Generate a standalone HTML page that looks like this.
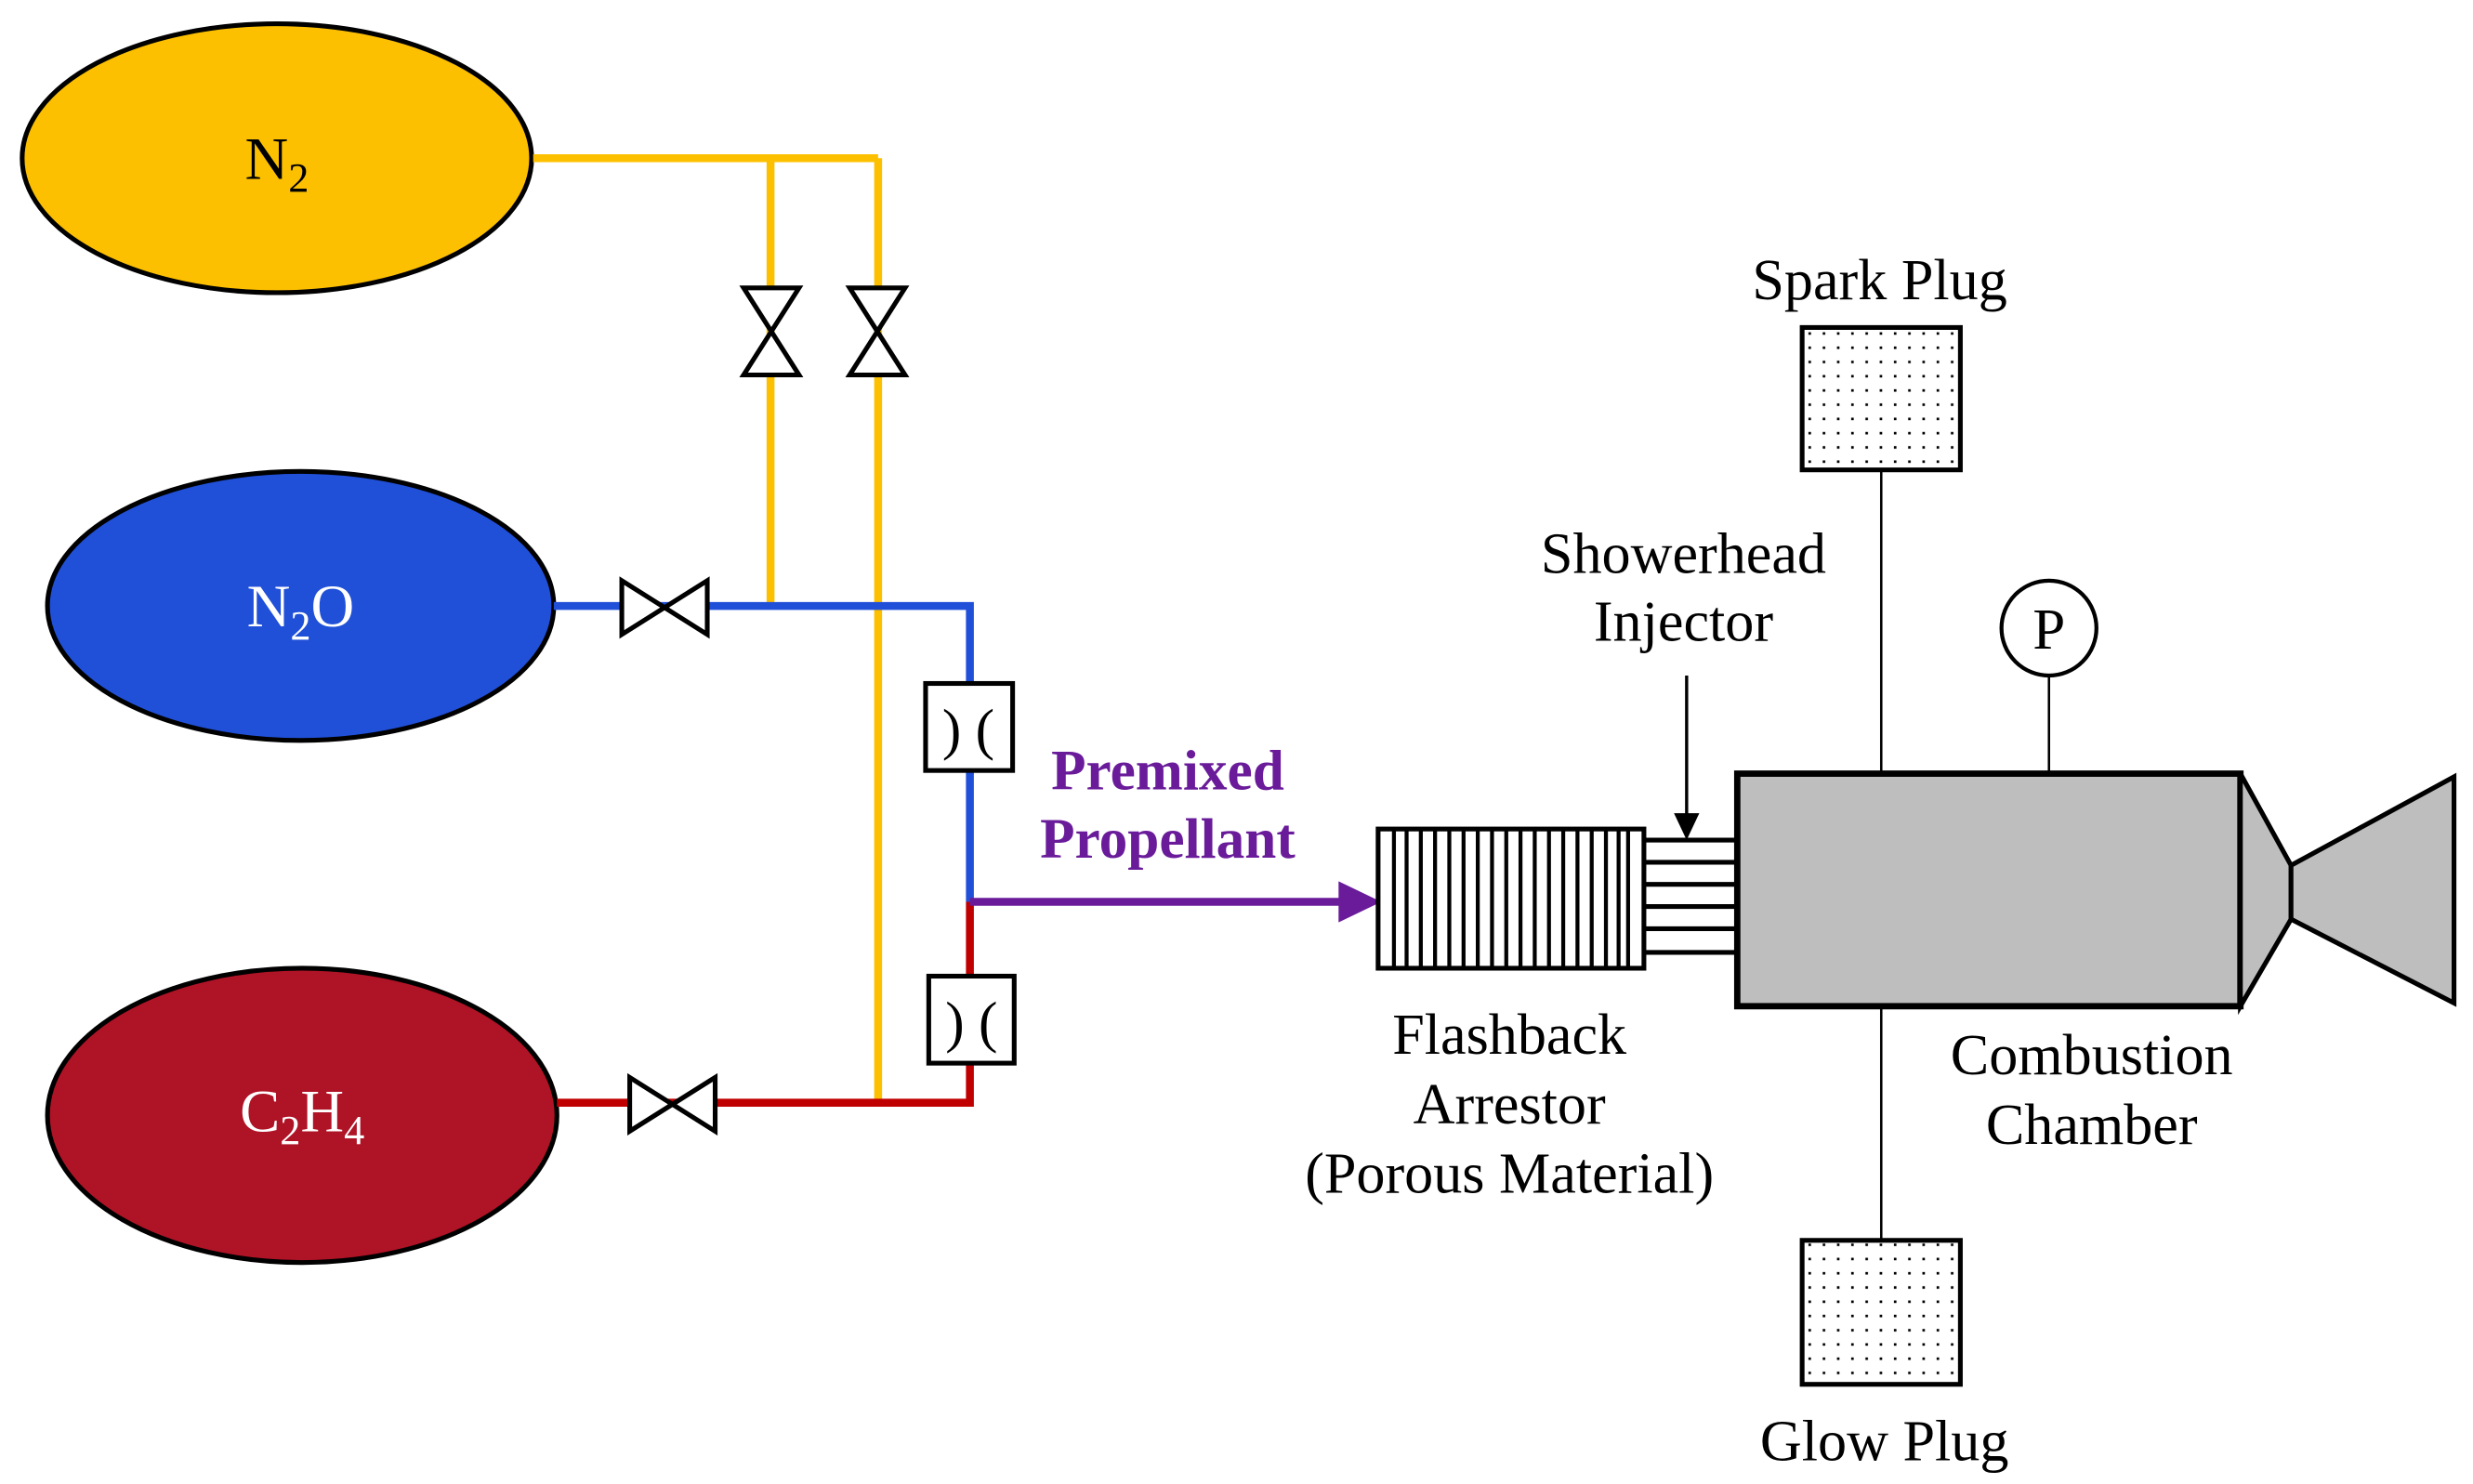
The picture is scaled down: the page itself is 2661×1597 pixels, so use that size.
<!DOCTYPE html>
<html><head><meta charset="utf-8"><style>html,body{margin:0;padding:0;background:#fff}svg{display:block}</style></head>
<body>
<svg width="2661" height="1597" viewBox="0 0 1563 938" preserveAspectRatio="none" xmlns="http://www.w3.org/2000/svg" font-family="'Liberation Serif', serif">
<defs>
<pattern id="dots" width="9" height="9" patternUnits="userSpaceOnUse"><rect x="4" y="4" width="1.6" height="1.6" fill="#000"/></pattern>
</defs>
<!-- tanks -->
<ellipse cx="175" cy="100" rx="161" ry="85" fill="#fdc000" stroke="#000" stroke-width="3"/>
<ellipse cx="190" cy="383" rx="160" ry="85" fill="#2050d8" stroke="#000" stroke-width="3"/>
<ellipse cx="191" cy="705" rx="161" ry="93" fill="#af1326" stroke="#000" stroke-width="3"/>
<text x="175" y="113" font-size="38" text-anchor="middle" fill="#000">N<tspan font-size="26" dy="8">2</tspan></text>
<text x="190" y="396" font-size="38" text-anchor="middle" fill="#fff">N<tspan font-size="26" dy="8">2</tspan><tspan dy="-8">O</tspan></text>
<text x="191" y="715" font-size="38" text-anchor="middle" fill="#fff">C<tspan font-size="26" dy="8">2</tspan><tspan dy="-8">H</tspan><tspan font-size="26" dy="8">4</tspan></text>
<!-- yellow pipes -->
<g stroke="#fdc000" stroke-width="5" fill="none">
<polyline points="337,100 555,100"/>
<line x1="487" y1="100" x2="487" y2="381"/>
<line x1="555" y1="100" x2="555" y2="695"/>
</g>
<!-- blue -->
<polyline points="350,383 613,383 613,570" stroke="#2050d8" stroke-width="5" fill="none"/>
<!-- red -->
<polyline points="352,697 613,697 613,570" stroke="#c00000" stroke-width="5" fill="none"/>
<!-- purple -->
<line x1="613" y1="570" x2="850" y2="570" stroke="#6a1b9a" stroke-width="5"/>
<polygon points="846,557 873,570 846,583" fill="#6a1b9a"/>
<text font-size="36" font-weight="bold" fill="#6a1b9a" text-anchor="middle"><tspan x="738" y="499">Premixed</tspan><tspan x="738" y="542">Propellant</tspan></text>
<!-- valves -->
<g fill="#fff" stroke="#000" stroke-width="3">
<polygon points="470,182 505,182 470,237 505,237"/>
<polygon points="537,182 572,182 537,237 572,237"/>
<polygon points="393,367 393,401 447,367 447,401"/>
<polygon points="398,681 398,715 452,681 452,715"/>
<rect x="585" y="432" width="55" height="55"/>
<rect x="587" y="617" width="54" height="55"/>
</g>
<text x="612" y="473" font-size="36" text-anchor="middle">) (</text>
<text x="614" y="658" font-size="36" text-anchor="middle">) (</text>
<g transform="translate(-4,-1)">
<!-- flashback arrestor -->
<rect x="875" y="525" width="168" height="88" fill="#fff" stroke="#000" stroke-width="3"/>
<g stroke="#000" stroke-width="2.5">
<line x1="885" y1="525" x2="885" y2="613"/><line x1="893" y1="525" x2="893" y2="613"/><line x1="902" y1="525" x2="902" y2="613"/><line x1="911" y1="525" x2="911" y2="613"/><line x1="920" y1="525" x2="920" y2="613"/><line x1="929" y1="525" x2="929" y2="613"/><line x1="938" y1="525" x2="938" y2="613"/><line x1="947" y1="525" x2="947" y2="613"/><line x1="956" y1="525" x2="956" y2="613"/><line x1="965" y1="525" x2="965" y2="613"/><line x1="974" y1="525" x2="974" y2="613"/><line x1="983" y1="525" x2="983" y2="613"/><line x1="992" y1="525" x2="992" y2="613"/><line x1="1001" y1="525" x2="1001" y2="613"/><line x1="1010" y1="525" x2="1010" y2="613"/><line x1="1019" y1="525" x2="1019" y2="613"/><line x1="1027" y1="525" x2="1027" y2="613"/><line x1="1033" y1="525" x2="1033" y2="613"/>
</g>
<g stroke="#000" stroke-width="3">
<line x1="1043" y1="532" x2="1102" y2="532"/><line x1="1043" y1="546" x2="1102" y2="546"/><line x1="1043" y1="560" x2="1102" y2="560"/><line x1="1043" y1="574" x2="1102" y2="574"/><line x1="1043" y1="588" x2="1102" y2="588"/><line x1="1043" y1="603" x2="1102" y2="603"/>
</g>
<line x1="1070" y1="428" x2="1070" y2="518" stroke="#000" stroke-width="2"/>
<polygon points="1062,515 1078,515 1070,532" fill="#000"/>
<!-- chamber -->
<line x1="1193" y1="298" x2="1193" y2="785" stroke="#000" stroke-width="1.5"/>
<line x1="1299" y1="428" x2="1299" y2="490" stroke="#000" stroke-width="1.5"/>
<rect x="1102" y="490" width="318" height="147" fill="#bebebe" stroke="#000" stroke-width="4"/>
<polygon points="1420,490 1452,548 1452,582 1420,637" fill="#bebebe" stroke="#000" stroke-width="3"/>
<polygon points="1452,548 1555,492 1555,635 1452,582" fill="#bebebe" stroke="#000" stroke-width="3"/>
<rect x="1143" y="208" width="100" height="90" fill="#fff" stroke="#000" stroke-width="3"/>
<rect x="1143" y="208" width="100" height="90" fill="url(#dots)"/>
<rect x="1143" y="785" width="100" height="91" fill="#fff" stroke="#000" stroke-width="3"/>
<rect x="1143" y="785" width="100" height="91" fill="url(#dots)"/>
<circle cx="1299" cy="398" r="30" fill="#fff" stroke="#000" stroke-width="2.5"/>
<text x="1299" y="411" font-size="37" text-anchor="middle">P</text>
<!-- labels -->
<g font-size="36.5" text-anchor="middle" fill="#000">
<text x="1192" y="190">Spark Plug</text>
<text x="1068" y="363">Showerhead</text>
<text x="1068" y="406">Injector</text>
<text x="958" y="667">Flashback</text>
<text x="958" y="711">Arrestor</text>
<text x="958" y="755">(Porous Material)</text>
<text x="1326" y="680">Combustion</text>
<text x="1326" y="724">Chamber</text>
<text x="1195" y="924">Glow Plug</text>
</g>
</g>
</svg>
</body></html>
